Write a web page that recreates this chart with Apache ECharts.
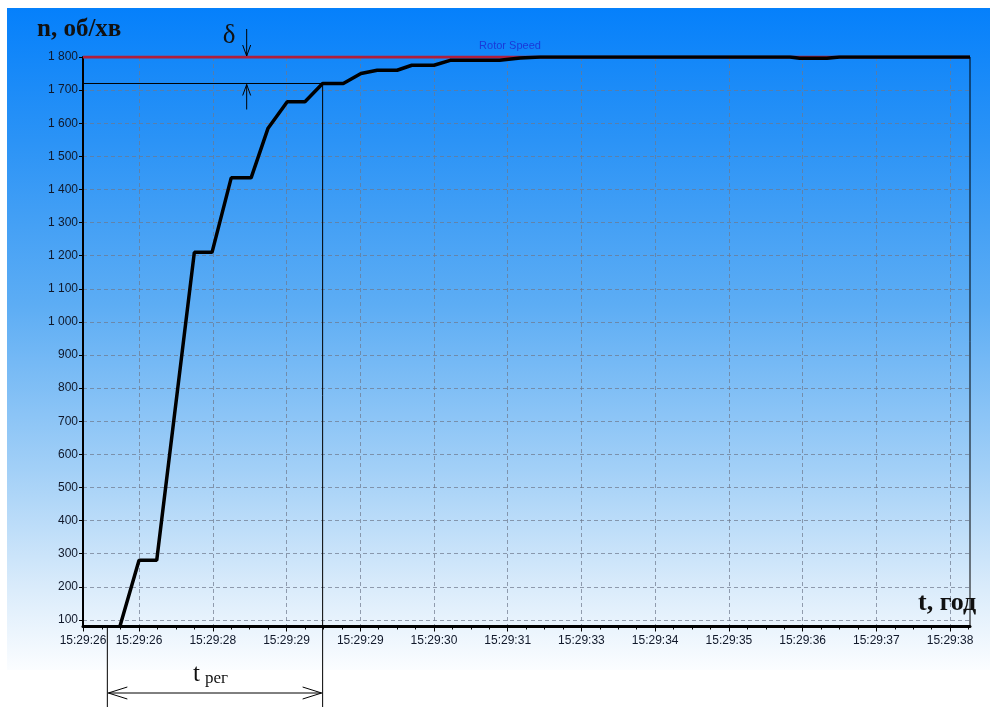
<!DOCTYPE html>
<html>
<head>
<meta charset="utf-8">
<title>Rotor Speed</title>
<script src="https://cdn.jsdelivr.net/npm/echarts@6/dist/echarts.min.js"></script>
<style>
  html, body { margin: 0; padding: 0; background: #fff; }
  #chart { width: 990px; height: 707px; }
</style>
</head>
<body>
<div id="chart"></div>
<script>
// time axis is in "grid steps" (1 step = distance between two vertical grid lines)
const tickPos = [0, 0.76, 1.76, 2.76, 3.76, 4.76, 5.76, 6.76, 7.76, 8.76, 9.76, 10.76, 11.76]
const tickLabels = ['15:29:26', '15:29:26', '15:29:28', '15:29:29', '15:29:29', '15:29:30',
  '15:29:31', '15:29:33', '15:29:34', '15:29:35', '15:29:36', '15:29:37', '15:29:38']
const yTicks = [100, 200, 300, 400, 500, 600, 700, 800, 900, 1000, 1100, 1200, 1300, 1400, 1500, 1600, 1700, 1800]

// rotor speed, rpm
const speedT = [0.50, 0.76, 1.00, 1.51, 1.75, 2.01, 2.28, 2.51, 2.77, 3.01, 3.25, 3.53, 3.77, 3.99,
  4.26, 4.46, 4.76, 4.98, 5.65, 5.93, 6.20, 9.59, 9.72, 10.09, 10.26, 12.03]
const speedN = [80, 280, 280, 1210, 1210, 1435, 1435, 1585, 1665, 1665, 1720, 1720, 1750, 1760,
  1760, 1775, 1775, 1790, 1790, 1797, 1800, 1800, 1796, 1796, 1800, 1800]
// set point line
const refT = [0, 12.03]
const refN = [1800, 1800]

// annotation levels
const tRegStart = 0.33
const tRegEnd = 3.25
const bandLevel = 1720
const deltaT = 2.22

const xMin = 0
const xMax = 12.03
const yMin = 80
const yMax = 1800

const minorPos = []
for (let v = 0.01; v <= xMax; v += 0.25) minorPos.push(Math.round(v * 100) / 100)

function fmtY(v) {
  if (v >= 1000) return Math.floor(v / 1000) + ' ' + String(v % 1000).padStart(3, '0')
  return String(v)
}
function fmtX(v) {
  let best = 0
  for (let i = 0; i < tickPos.length; i++) {
    if (Math.abs(tickPos[i] - v) < Math.abs(tickPos[best] - v)) best = i
  }
  return tickLabels[best]
}

const chart = echarts.init(document.getElementById('chart'))

const gridLine = { show: true, lineStyle: { color: 'rgba(110,120,140,0.7)', width: 1, type: [4, 3] } }

chart.setOption({
  animation: false,
  backgroundColor: '#ffffff',
  title: {
    text: 'Rotor Speed',
    left: 505,
    top: 35,
    textAlign: 'center',
    textStyle: { color: '#1a3ad8', fontSize: 11, fontWeight: 'normal', fontFamily: 'Arial' }
  },
  grid: {
    left: 83, right: 20, top: 57, bottom: 80.5,
    show: true, borderColor: '#000', borderWidth: 1, backgroundColor: 'transparent'
  },
  xAxis: [{
    type: 'value',
    min: xMin,
    max: xMax,
    axisLine: { show: true, lineStyle: { color: '#000', width: 3 } },
    axisTick: { show: true, customValues: tickPos, length: 5, lineStyle: { color: '#000', width: 1 } },
    axisLabel: {
      customValues: tickPos, formatter: fmtX, color: '#10182a', fontSize: 12,
      fontFamily: 'Arial', margin: 8
    },
    splitLine: gridLine
  }, {
    type: 'value',
    min: xMin,
    max: xMax,
    position: 'bottom',
    axisLine: { show: false },
    axisTick: { show: true, customValues: minorPos, length: 3, lineStyle: { color: '#000', width: 1 } },
    axisLabel: { show: false },
    splitLine: { show: false }
  }],
  yAxis: {
    type: 'value',
    min: yMin,
    max: yMax,
    axisLine: { show: true, lineStyle: { color: '#000', width: 2 } },
    axisTick: { show: true, customValues: yTicks, length: 4, lineStyle: { color: '#000' } },
    axisLabel: {
      customValues: yTicks, formatter: fmtY, color: '#10182a', fontSize: 12,
      fontFamily: 'Arial', margin: 5
    },
    splitLine: gridLine
  },
  series: [{
    name: 'Set point',
    type: 'line',
    data: refT.map((t, i) => [t, refN[i]]),
    showSymbol: false,
    lineStyle: { color: '#b01e3c', width: 3 },
    z: 2
  }, {
    name: 'Rotor Speed',
    type: 'line',
    data: speedT.map((t, i) => [t, speedN[i]]),
    showSymbol: false,
    lineStyle: { color: '#000', width: 3.5 },
    z: 3
  }]
})

// background panel and hand-drawn annotations, placed from data coordinates
const pStart = chart.convertToPixel({ gridIndex: 0 }, [tRegStart, yMin])
const pEnd = chart.convertToPixel({ gridIndex: 0 }, [tRegEnd, bandLevel])
const pLeft = chart.convertToPixel({ gridIndex: 0 }, [xMin, bandLevel])
const pTop = chart.convertToPixel({ gridIndex: 0 }, [deltaT, yMax])
const pRight = chart.convertToPixel({ gridIndex: 0 }, [xMax, yMin])

const H = 707
const arrowY = 693

function seg(x1, y1, x2, y2, w) {
  return { type: 'line', shape: { x1, y1, x2, y2 }, style: { stroke: '#000', lineWidth: w || 1 }, z: 10 }
}

chart.setOption({
  graphic: [
    {
      type: 'rect', z: -10, silent: true,
      shape: { x: 7, y: 8, width: 983, height: 662 },
      style: {
        fill: new echarts.graphic.LinearGradient(0, 0, 0, 1, [
          { offset: 0, color: '#0580fb' },
          { offset: 0.2, color: '#2b93f6' },
          { offset: 0.45, color: '#5dadf4' },
          { offset: 0.7, color: '#a3d0f7' },
          { offset: 0.88, color: '#dbecfb' },
          { offset: 1, color: '#fbfdff' }
        ])
      }
    },
    // 1720 level and t_reg end
    seg(pLeft[0], pEnd[1], pEnd[0], pEnd[1]),
    seg(pEnd[0], pEnd[1], pEnd[0], H),
    seg(pStart[0], pStart[1], pStart[0], H),
    // t_reg dimension arrow
    seg(pStart[0] + 1, arrowY, pEnd[0] - 1, arrowY),
    seg(pStart[0] + 1, arrowY, pStart[0] + 20, arrowY - 6),
    seg(pStart[0] + 1, arrowY, pStart[0] + 20, arrowY + 6),
    seg(pEnd[0] - 1, arrowY, pEnd[0] - 20, arrowY - 6),
    seg(pEnd[0] - 1, arrowY, pEnd[0] - 20, arrowY + 6),
    // delta arrows
    seg(pTop[0], pTop[1] - 28, pTop[0], pTop[1] - 1),
    seg(pTop[0], pTop[1] - 1, pTop[0] - 4, pTop[1] - 12),
    seg(pTop[0], pTop[1] - 1, pTop[0] + 4, pTop[1] - 12),
    seg(pTop[0], pEnd[1] + 1, pTop[0], pEnd[1] + 26),
    seg(pTop[0], pEnd[1] + 1, pTop[0] - 4, pEnd[1] + 12),
    seg(pTop[0], pEnd[1] + 1, pTop[0] + 4, pEnd[1] + 12),
    {
      type: 'text', z: 10, x: 37, y: 17,
      style: { text: 'n, об/хв', font: 'bold 25px "Liberation Serif", "DejaVu Serif", serif', fill: '#111' }
    },
    {
      type: 'text', z: 10, x: pTop[0] - 24, y: 22,
      style: { text: 'δ', font: '27px "Liberation Serif", serif', fill: '#111' }
    },
    {
      type: 'text', z: 10, x: pRight[0] - 52, y: pRight[1] - 36,
      style: { text: 't, год', font: 'bold 26px "Liberation Serif", serif', fill: '#111' }
    },
    {
      type: 'text', z: 10, x: (pStart[0] + pEnd[0]) / 2 - 22, y: 662,
      style: { text: 't', font: '25px "Liberation Serif", serif', fill: '#111' }
    },
    {
      type: 'text', z: 10, x: (pStart[0] + pEnd[0]) / 2 - 10, y: 670,
      style: { text: 'рег', font: '17px "Liberation Serif", serif', fill: '#111' }
    }
  ]
})
</script>
</body>
</html>
